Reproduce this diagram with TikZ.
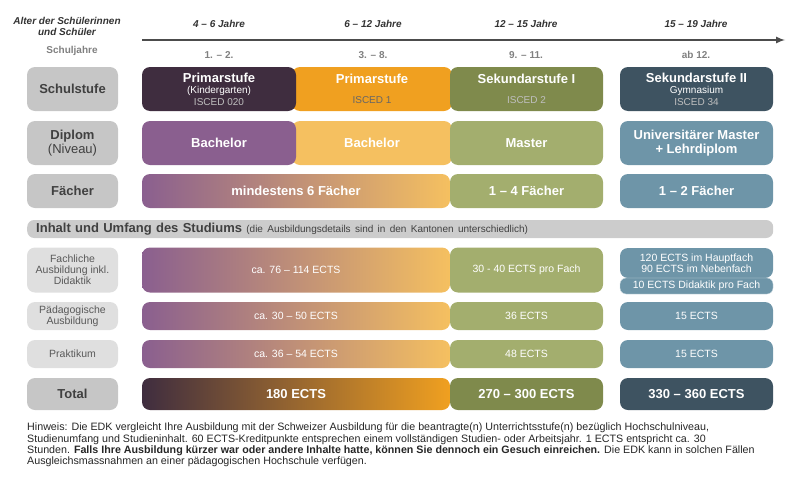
\documentclass[tikz,border=0pt]{standalone}
\usepackage{fontspec}
\setmainfont{Liberation Sans}
\begin{document}
\begin{tikzpicture}[x=1pt,y=-1pt,
 box/.style={rounded corners=8pt,inner sep=0pt,align=center,text=white,font=\fontsize{13}{13.5}\selectfont\bfseries},
 lab/.style={box,fill=gray!45,text=black!75},
 lab2/.style={box,fill=gray!25,text=black!65,font=\fontsize{10.5}{11}\selectfont},
 small/.style={font=\fontsize{10.5}{11}\selectfont\mdseries},
 hdr/.style={font=\fontsize{10}{11}\selectfont\bfseries\itshape,text=black!80},
 yr/.style={font=\fontsize{10}{11}\selectfont\bfseries,text=black!50}]
\useasboundingbox (0,0) rectangle (800,482);
\definecolor{dpur}{HTML}{3F2D3F}\definecolor{org}{HTML}{F0A020}
\definecolor{oli}{HTML}{7F8A4C}\definecolor{slate}{HTML}{3E5361}
\definecolor{pur}{HTML}{8A5F8F}\definecolor{lorg}{HTML}{F5C060}
\definecolor{lgr}{HTML}{A3AE6E}\definecolor{lbl}{HTML}{6E95A8}
\newcommand{\sm}{\fontsize{10}{10.5}\selectfont\mdseries}
% header
\node[hdr,align=center] (alter) at (67,26) {Alter der Schülerinnen\\und Schüler};
\node[yr] (sj) at (72,51) {Schuljahre};
\coordinate (a0) at (142,40); \coordinate (a1) at (785,40);
\draw[line width=2pt,black!70,-latex] (a0) -- (a1);
\node[hdr] (h1) at (219,24) {4 – 6 Jahre};
\node[hdr] (h2) at (373,24) {6 – 12 Jahre};
\node[hdr] (h3) at (526,24) {12 – 15 Jahre};
\node[hdr] (h4) at (696,24) {15 – 19 Jahre};
\node[yr] (y1) at (219,55) {1. – 2.};
\node[yr] (y2) at (373,55) {3. – 8.};
\node[yr] (y3) at (526,55) {9. – 11.};
\node[yr] (y4) at (696,55) {ab 12.};
% Schulstufe
\node[lab,minimum width=91,minimum height=44] (l1) at (72.5,89) {Schulstufe};
\node[box,fill=org,minimum width=160,minimum height=44] (s2) at (372,89) {Primarstufe\\[7pt]{\sm\color{black!60}ISCED 1}};
\node[box,fill=dpur,minimum width=154,minimum height=44] (s1) at (219,89) {Primarstufe\\[-2pt]{\sm(Kindergarten)}\\[-2pt]{\sm\color{white!75!black}ISCED 020}};
\node[box,fill=oli,minimum width=153,minimum height=44] (s3) at (526.5,89) {Sekundarstufe I\\[7pt]{\sm\color{white!75!black}ISCED 2}};
\node[box,fill=slate,minimum width=153,minimum height=44] (s4) at (696.5,89) {Sekundarstufe II\\[-2pt]{\sm Gymnasium}\\[-2pt]{\sm\color{white!75!black}ISCED 34}};
% Diplom
\node[lab,minimum width=91,minimum height=44] (l2) at (72.5,143) {Diplom\\{\mdseries(Niveau)}};
\node[box,fill=lorg,minimum width=160,minimum height=44] (d2) at (372,143) {Bachelor};
\node[box,fill=pur,minimum width=154,minimum height=44] (d1) at (219,143) {Bachelor};
\node[box,fill=lgr,minimum width=153,minimum height=44] (d3) at (526.5,143) {Master};
\node[box,fill=lbl,minimum width=153,minimum height=44] (d4) at (696.5,143) {Universitärer Master\\+ Lehrdiplom};
% Fächer
\node[lab,minimum width=91,minimum height=34] (l3) at (72.5,191) {Fächer};
\node[box,left color=pur,right color=lorg,minimum width=308,minimum height=34] (f1) at (296,191) {mindestens 6 Fächer};
\node[box,fill=lgr,minimum width=153,minimum height=34] (f3) at (526.5,191) {1 – 4 Fächer};
\node[box,fill=lbl,minimum width=153,minimum height=34] (f4) at (696.5,191) {1 – 2 Fächer};
% bar
\node[box,fill=gray!40,text=black!75,minimum width=746,minimum height=18,rounded corners=7pt,anchor=west,text width=740,align=left] (bar) at (27,229) {\hspace*{6pt}Inhalt und Umfang des Studiums {\fontsize{10}{11}\selectfont\mdseries(die Ausbildungsdetails sind in den Kantonen unterschiedlich)}};
% Fachliche
\node[lab2,minimum width=91,minimum height=45] (l4) at (72.5,270) {Fachliche\\Ausbildung inkl.\\Didaktik};
\node[box,small,left color=pur,right color=lorg,minimum width=308,minimum height=45] (c1) at (296,270) {ca. 76 – 114 ECTS};
\node[box,small,fill=lgr,minimum width=153,minimum height=45] (c3) at (526.5,270) {30 - 40 ECTS pro Fach};
\node[box,small,fill=lbl,minimum width=153,minimum height=30] (c4) at (696.5,263) {120 ECTS im Hauptfach\\90 ECTS im Nebenfach};
\node[box,small,fill=lbl,minimum width=153,minimum height=16,rounded corners=6pt,draw=white!70!lbl] (c5) at (696.5,286) {10 ECTS Didaktik pro Fach};
% Paed
\node[lab2,minimum width=91,minimum height=28] (l5) at (72.5,316) {Pädagogische\\Ausbildung};
\node[box,small,left color=pur,right color=lorg,minimum width=308,minimum height=28] (p1) at (296,316) {ca. 30 – 50 ECTS};
\node[box,small,fill=lgr,minimum width=153,minimum height=28] (p3) at (526.5,316) {36 ECTS};
\node[box,small,fill=lbl,minimum width=153,minimum height=28] (p4) at (696.5,316) {15 ECTS};
% Praktikum
\node[lab2,minimum width=91,minimum height=28] (l6) at (72.5,354) {Praktikum};
\node[box,small,left color=pur,right color=lorg,minimum width=308,minimum height=28] (k1) at (296,354) {ca. 36 – 54 ECTS};
\node[box,small,fill=lgr,minimum width=153,minimum height=28] (k3) at (526.5,354) {48 ECTS};
\node[box,small,fill=lbl,minimum width=153,minimum height=28] (k4) at (696.5,354) {15 ECTS};
% Total
\node[lab,minimum width=91,minimum height=32] (l7) at (72.5,394) {Total};
\node[box,left color=dpur,right color=org,minimum width=308,minimum height=32] (t1) at (296,394) {180 ECTS};
\node[box,fill=oli,minimum width=153,minimum height=32] (t3) at (526.5,394) {270 – 300 ECTS};
\node[box,fill=slate,minimum width=153,minimum height=32] (t4) at (696.5,394) {330 – 360 ECTS};
% note
\node[anchor=north west,inner sep=0pt,align=left,font=\fontsize{10.7}{11.3}\selectfont,text=black!85] (note) at (27,423) {Hinweis: Die EDK vergleicht Ihre Ausbildung mit der Schweizer Ausbildung für die beantragte(n) Unterrichtsstufe(n) bezüglich Hochschulniveau,\\Studienumfang und Studieninhalt. 60 ECTS-Kreditpunkte entsprechen einem vollständigen Studien- oder Arbeitsjahr. 1 ECTS entspricht ca. 30\\Stunden. \textbf{Falls Ihre Ausbildung kürzer war oder andere Inhalte hatte, können Sie dennoch ein Gesuch einreichen.} Die EDK kann in solchen Fällen\\Ausgleichsmassnahmen an einer pädagogischen Hochschule verfügen.};
\end{tikzpicture}
\end{document}
